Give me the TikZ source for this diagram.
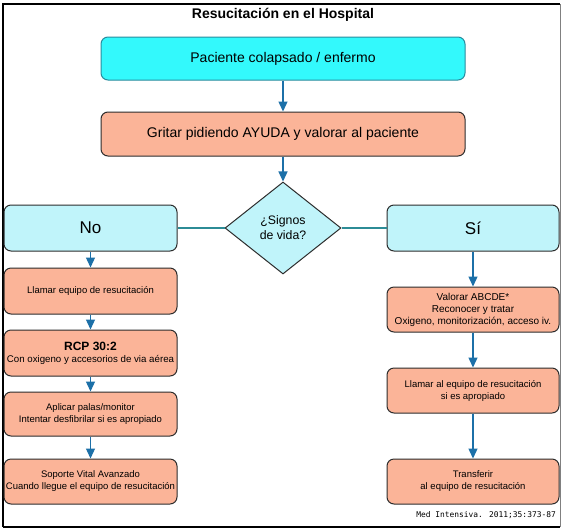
\documentclass[tikz,border=0pt]{standalone}
\usepackage{fontspec}
\setmainfont{Liberation Sans}
\newfontfamily\citefont{DejaVu Sans Mono}
\usetikzlibrary{shapes.geometric,arrows.meta}
\definecolor{cyanA}{RGB}{51,249,252}
\definecolor{cyanB}{RGB}{192,244,250}
\definecolor{salmon}{RGB}{251,180,152}
\definecolor{tealedge}{RGB}{40,140,158}
\definecolor{arrowblue}{RGB}{28,112,168}
\definecolor{connteal}{RGB}{44,140,150}
\definecolor{edgedark}{RGB}{45,45,45}
\tikzset{
  boxbase/.style={rectangle, rounded corners=7pt, line width=1pt, inner sep=0pt, align=center},
  topbox/.style={boxbase, fill=cyanA, draw=tealedge, minimum width=364pt, minimum height=43pt, font=\fontsize{14}{16}\selectfont},
  bigsalmon/.style={boxbase, fill=salmon, draw=edgedark, minimum width=364pt, minimum height=44pt, font=\fontsize{14}{16}\selectfont},
  answer/.style={boxbase, fill=cyanB, draw=edgedark, minimum height=46pt, font=\fontsize{17}{19}\selectfont},
  leftbox/.style={boxbase, fill=salmon, draw=edgedark, minimum width=173pt, font=\fontsize{9.5}{12}\selectfont},
  rightbox/.style={boxbase, fill=salmon, draw=edgedark, minimum width=172pt, minimum height=45pt, font=\fontsize{9.5}{12}\selectfont},
  decision/.style={diamond, fill=cyanB, draw=edgedark, line width=1pt, inner sep=0pt, minimum width=116pt, minimum height=92pt, align=center, font=\fontsize{12.3}{15}\selectfont},
  arr/.style={draw=arrowblue, line width=1.3pt, -{Triangle[width=9pt,length=10pt]}},
  conn/.style={draw=connteal, line width=1.3pt},
}
\begin{document}
\begin{tikzpicture}[x=1pt,y=-1pt]
\useasboundingbox (0,0) rectangle (562,528);
\fill[white] (0,0) rectangle (562,528);
% frame
\draw[line width=1.5pt] (3,527) -- (3,4) -- (560,4);
\draw[line width=1.5pt] (3,527) -- (560,527);
\draw[gray, line width=0.8pt] (560,4) -- (560,527);
% title
\node[font=\bfseries\fontsize{14}{16}\selectfont] (title) at (283,15) {Resucitación en el Hospital};
% top
\node[topbox] (b1) at (283,58.5) {Paciente colapsado / enfermo};
\node[bigsalmon] (b2) at (283,134) {Gritar pidiendo AYUDA y valorar al paciente};
\node[decision] (dia) at (283,228) {¿Signos\\de vida?};
\node[answer, minimum width=173pt] (no) at (90.5,228) {No};
\node[answer, minimum width=172pt] (si) at (473,228) {Sí};
% left column
\node[leftbox, minimum height=46pt] (l1) at (90.5,291) {Llamar equipo de resucitación};
\node[leftbox, minimum height=46pt] (l2) at (90.5,353) {{\bfseries\fontsize{12}{14}\selectfont RCP 30:2}\\{\fontsize{9.7}{12}\selectfont Con oxigeno y accesorios de via aérea}};
\node[leftbox, minimum height=44pt] (l3) at (90.5,414) {Aplicar palas/monitor\\Intentar desfibrilar si es apropiado};
\node[leftbox, minimum height=45pt] (l4) at (90.5,481.5) {Soporte Vital Avanzado\\Cuando llegue el equipo de resucitación};
% right column
\node[rightbox, font=\fontsize{10}{12}\selectfont] (r1) at (473,309.5) {Valorar ABCDE*\\Reconocer y tratar\\Oxigeno, monitorización, acceso iv.};
\node[rightbox] (r2) at (473,390.5) {Llamar al equipo de resucitación\\si es apropiado};
\node[rightbox] (r3) at (473,481.5) {Transferir\\al equipo de resucitación};
% citation
\node[anchor=east, inner sep=0pt, font=\citefont\fontsize{7.9}{9}\selectfont] (cite) at (556,515) {Med Intensiva. 2011;35:373-87};
% connectors
\draw[arr] (b1) -- (b2);
\draw[arr] (b2) -- (dia);
\draw[conn] (dia.west) -- (no.east);
\draw[conn] (dia.east) -- (si.west);
\draw[arr] (no) -- (l1);
\draw[arr] (l1) -- (l2);
\draw[arr] (l2) -- (l3);
\draw[arr] (l3) -- (l4);
\draw[arr] (si) -- (r1);
\draw[arr] (r1) -- (r2);
\draw[arr] (r2) -- (r3);
\end{tikzpicture}
\end{document}
